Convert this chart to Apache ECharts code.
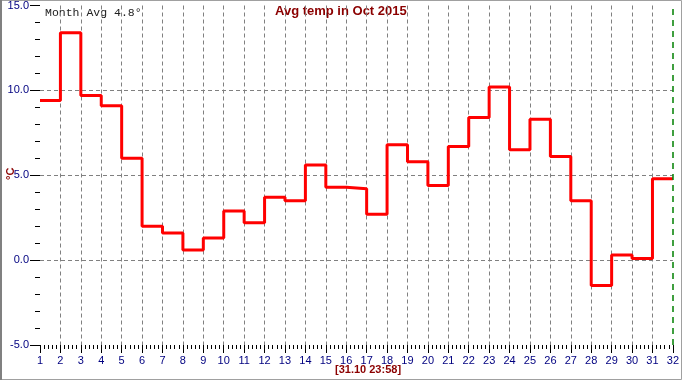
<!DOCTYPE html>
<html><head><meta charset="utf-8">
<script src="https://cdn.jsdelivr.net/npm/echarts@6/dist/echarts.min.js"></script>
<style>html,body{margin:0;padding:0;background:#fff}#c{width:682px;height:380px}</style>
</head><body><div id="c"></div>
<script>
const days = [1,2,3,4,5,6,7,8,9,10,11,12,13,14,15,16,17,18,19,20,21,22,23,24,25,26,27,28,29,30,31];
const avgTemp = [9.4,13.4,9.7,9.1,6.0,2.0,1.6,0.6,1.3,2.9,2.2,3.7,3.5,5.6,4.3,4.2,2.7,6.8,5.8,4.4,6.7,8.4,10.2,6.5,8.3,6.1,3.5,-1.5,0.3,0.1,4.8];
const yTicks = [-5,0,5,10,15];
const titleText = 'Avg temp in Oct 2015';
const monthAvgText = 'Month Avg 4.8°';
const stampText = '[31.10 23:58]';
const unitText = '°C';

const data = days.map((d,i)=>[d, avgTemp[i]]);
data.push([days[days.length-1]+1, avgTemp[avgTemp.length-1]]);

const xSplitColors = [];
for (let d = 1; d <= 32; d++) xSplitColors.push(d===1||d===32 ? 'rgba(0,0,0,0)' : '#808080');
const ySplitColors = yTicks.map(v => (v===yTicks[0]||v===yTicks[yTicks.length-1]) ? 'rgba(0,0,0,0)' : '#808080');

const chart = echarts.init(document.getElementById('c'), null, {renderer:'canvas'});
chart.setOption({
  animation:false,
  backgroundColor:'#fff',
  grid:{left:40,right:5,top:4.5,bottom:35,containLabel:false},
  xAxis:{type:'value',min:1,max:32,interval:1,
    axisLine:{show:false,onZero:false},
    axisTick:{show:true,length:8,lineStyle:{color:'#000',width:1}},
    minorTick:{show:true,splitNumber:5,length:4,lineStyle:{color:'#000',width:1}},
    axisLabel:{color:'#000080',fontSize:11,fontFamily:'Liberation Sans, Arial',margin:10},
    splitLine:{show:true,lineStyle:{color:xSplitColors,type:[4,3],width:1}}
  },
  yAxis:{type:'value',min:-5,max:15,interval:5,
    axisLine:{show:false,onZero:false},
    axisTick:{show:true,length:10,lineStyle:{color:'#000',width:1}},
    minorTick:{show:true,splitNumber:5,length:5,lineStyle:{color:'#000',width:1}},
    axisLabel:{color:'#000080',fontSize:11,fontFamily:'Liberation Sans, Arial',margin:11,formatter:v=>v.toFixed(1)},
    splitLine:{show:true,lineStyle:{color:ySplitColors,type:[4,3],width:1}}
  },
  series:[{type:'line',step:'end',data:data,symbol:'none',
    lineStyle:{color:'#ff0000',width:3},
    markLine:{silent:true,symbol:'none',label:{show:false},
      lineStyle:{color:'#008000',type:[6,5],width:1.5},
      data:[{xAxis:32}]}
  }],
  graphic:[
    {type:'rect',shape:{x:0.5,y:0.5,width:681,height:379},style:{fill:'none',stroke:'#a0a0a0',lineWidth:1},silent:true},
    {type:'line',shape:{x1:1,y1:0,x2:1,y2:380},style:{stroke:'#808080',lineWidth:2},silent:true},
    {type:'text',left:275,top:5,style:{text:titleText,fill:'#8b0000',font:'bold 13px "Liberation Sans", Arial'}},
    {type:'text',left:45,top:7,style:{text:monthAvgText,fill:'#202020',font:'11.5px "Liberation Mono", "Courier New", monospace'}},
    {type:'text',left:335,top:364,style:{text:stampText,fill:'#8b0000',font:'bold 11px "Liberation Sans", Arial'}},
    {type:'text',x:5,y:180,rotation:Math.PI/2,style:{text:unitText,fill:'#8b0000',font:'bold 11px "Liberation Sans", Arial'}}
  ]
});
</script></body></html>
